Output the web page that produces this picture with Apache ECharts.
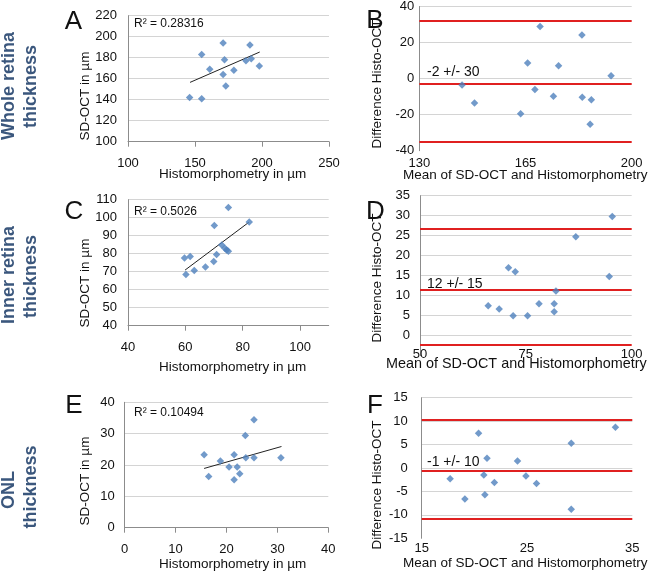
<!DOCTYPE html>
<html><head><meta charset="utf-8">
<script src="https://cdn.jsdelivr.net/npm/echarts@6/dist/echarts.min.js"></script>
<style>html,body{margin:0;padding:0;background:#fff}#c{width:649px;height:571px}</style>
</head><body><div id="c"></div>
<script>
// ---- Data ----
const scatterA = [[146,142],[155,141],[155,183],[161,169],[171,194],[172,178],[171,164],[173,153],[179,168],[188,177],[191,192],[192,179],[198,172]];
const trendA = [[146.3,156.5],[198.3,185.4]];
const baB = [[144.1,-3.5],[148.2,-13.6],[163.4,-19.5],[165.7,8.7],[168.1,-6],[169.8,28.9],[174.2,-9.8],[175.9,7.1],[183.6,24.2],[183.7,-10.4],[186.7,-11.8],[186.3,-25.3],[193.2,1.6]];
const limitsB = [32,-3.1,-34.9];

const scatterC = [[59.7,77.6],[60.2,68.5],[61.7,78.5],[63.1,70.6],[67,72.6],[69.9,75.6],[70.1,95.6],[70.9,79.6],[72.7,84.8],[73.8,83],[74.4,82.1],[75,81.3],[75,105.6],[82.3,97.6]];
const trendC = [[59.9,70.9],[82.1,97.4]];
const baD = [[66.1,7.5],[68.7,6.7],[70.9,17],[72,5],[72.5,16],[75.4,5],[78.1,8],[81.7,8],[81.7,6],[82.1,11.2],[86.8,24.75],[94.7,14.8],[95.4,29.8]];
const limitsD = [26.7,11.5,-2.3];

const scatterE = [[15.6,23.3],[18.8,21.3],[16.5,16.3],[20.5,19.4],[21.5,23.3],[22.1,19.4],[21.5,15.3],[22.6,17.2],[23.7,29.4],[23.8,22.3],[25.4,34.4],[25.4,22.3],[30.7,22.3]];
const trendE = [[15.6,18.9],[30.8,25.9]];
const baF = [[17.7,-2.3],[19.1,-6.6],[20.4,7.4],[20.9,-1.5],[21,-5.7],[21.2,2.1],[21.9,-3.1],[24.1,1.5],[24.9,-1.7],[25.9,-3.3],[29.2,5.3],[29.2,-8.8],[33.4,8.7]];
const limitsF = [10.2,-0.57,-10.8];

const ticksBx = [130,165,200];
const ticksCx = [40,60,80,100];
const ticksDx = [50,75,100];
const ticksFx = [15,25,35];

const r2Texts = ['R\u00b2 = 0.28316','R\u00b2 = 0.5026','R\u00b2 = 0.10494'];
const baTexts = ['-2 +/- 30','12 +/- 15','-1 +/- 10'];
const panelLetters = ['A','B','C','D','E','F'];
const rowLabels = [['Whole retina','thickness'],['Inner retina','thickness'],['ONL','thickness']];

// ---- Style ----
const FONT = 'Liberation Sans, Arial, sans-serif';
const GRID = '#d4d4d4', AXIS = '#8c8c8c', BLUE = '#4f81bd', RED = '#e02020', ROWC = '#3b577d';

const grids = [
  {left:128, top:15.7, width:201, height:126},
  {left:419.3, top:4, width:212.4, height:146.7},
  {left:128, top:199.7, width:200.7, height:126},
  {left:420, top:195.7, width:211.7, height:160},
  {left:124.7, top:402.3, width:203.6, height:125.4},
  {left:421.7, top:397.7, width:210.6, height:140.6}
];

function xAx(i, min, max, interval, opts){
  const o = opts || {};
  const ax = {gridIndex:i, type:'value', min, max, interval,
    axisLine:{show:!!o.line, onZero:false, lineStyle:{color:AXIS}},
    axisTick:{show:!!o.line, length:5, lineStyle:{color:AXIS}},
    splitLine:{show:false},
    axisLabel:{fontFamily:FONT, fontSize:13, color:'#111', margin:o.margin, showMaxLabel:true}};
  if (o.custom){ ax.axisLabel.customValues = o.custom; ax.axisTick.customValues = o.custom; }
  return ax;
}
function yAx(i, min, max, interval, opts){
  const o = opts || {};
  return {gridIndex:i, type:'value', min, max, interval,
    axisLine:{show:true, lineStyle:{color:AXIS}},
    axisTick:{show:false},
    splitLine:{show:true, showMinLine:false, lineStyle:{color:GRID, width:1}},
    axisLabel:{fontFamily:FONT, fontSize:13, color:'#111', margin:o.margin, showMinLabel:o.showMin!==false}};
}

const xAxes = [
  xAx(0,100,250,50,{line:true, margin:15}),
  xAx(1,130,200,35,{custom:ticksBx, margin:6}),
  xAx(2,40,110,20,{line:true, custom:ticksCx, margin:15}),
  xAx(3,50,100,25,{custom:ticksDx, margin:-8}),
  xAx(4,0,40,10,{line:true, margin:15}),
  xAx(5,15,35,10,{custom:ticksFx, margin:4})
];
const yAxes = [
  yAx(0,100,220,20,{margin:11}),
  yAx(1,-40,40,20,{margin:5}),
  yAx(2,40,110,10,{margin:11}),
  yAx(3,-5,35,5,{margin:10, showMin:false}),
  yAx(4,0,40,10,{margin:10}),
  yAx(5,-15,15,5,{margin:14})
];

const series = [];
function scatter(i, data){
  series.push({type:'scatter', xAxisIndex:i, yAxisIndex:i, data, symbol:'diamond', symbolSize:7.5,
    itemStyle:{color:BLUE}, z:5});
}
function trend(i, data){
  series.push({type:'line', xAxisIndex:i, yAxisIndex:i, data, symbol:'none',
    lineStyle:{color:'#222', width:1}, z:4});
}
function limits(i, vals){
  series.push({type:'line', xAxisIndex:i, yAxisIndex:i, data:[], 
    markLine:{silent:true, symbol:['none','none'], label:{show:false},
      lineStyle:{color:RED, width:2, type:'solid'},
      data: vals.map(v=>({yAxis:v}))}, z:3});
}
scatter(0,scatterA); trend(0,trendA);
scatter(1,baB); limits(1,limitsB);
scatter(2,scatterC); trend(2,trendC);
scatter(3,baD); limits(3,limitsD);
scatter(4,scatterE); trend(4,trendE);
scatter(5,baF); limits(5,limitsF);

function txt(text, x, y, size, opt){
  const o = opt || {};
  return {type:'text', x, y, rotation:o.rot||0, z:10,
    style:{text, fontFamily:FONT, fontSize:size, fontWeight:o.bold?'bold':'normal',
      fill:o.color||'#111', textAlign:o.align||'center', align:o.align||'center',
      textVerticalAlign:'middle', verticalAlign:'middle'}};
}
const R = Math.PI/2;
const graphics = [
  // row labels
  txt(rowLabels[0][0], 9, 86, 18, {rot:R, bold:true, color:ROWC}),
  txt(rowLabels[0][1], 31, 86.5, 18, {rot:R, bold:true, color:ROWC}),
  txt(rowLabels[1][0], 9, 275, 18, {rot:R, bold:true, color:ROWC}),
  txt(rowLabels[1][1], 31, 276.5, 18, {rot:R, bold:true, color:ROWC}),
  txt(rowLabels[2][0], 9, 490, 18, {rot:R, bold:true, color:ROWC}),
  txt(rowLabels[2][1], 31, 487, 18, {rot:R, bold:true, color:ROWC}),
  // panel letters
  txt(panelLetters[0], 73.5, 22, 26),
  txt(panelLetters[1], 375, 20.5, 26),
  txt(panelLetters[2], 74, 212, 26),
  txt(panelLetters[3], 375.5, 212, 26),
  txt(panelLetters[4], 74, 406, 26),
  txt(panelLetters[5], 375, 405.5, 26),
  // y axis titles
  txt('SD-OCT in \u00b5m', 85, 96, 13.5, {rot:R}),
  txt('SD-OCT in \u00b5m', 85, 283, 13.5, {rot:R}),
  txt('SD-OCT in \u00b5m', 85, 481, 13.5, {rot:R}),
  txt('Difference Histo-OCT', 377.5, 84, 13.5, {rot:R}),
  txt('Difference Histo-OCT', 377.5, 278, 13.5, {rot:R}),
  txt('Difference Histo-OCT', 377.5, 485, 13.5, {rot:R}),
  // x axis titles
  txt('Histomorphometry in \u00b5m', 232.7, 174, 13.5),
  txt('Histomorphometry in \u00b5m', 232.7, 367.7, 13.5),
  txt('Histomorphometry in \u00b5m', 232.7, 564, 13.5),
  txt('Mean of SD-OCT and Histomorphometry', 403, 175, 13.5, {align:'left'}),
  txt('Mean of SD-OCT and Histomorphometry', 386, 364, 14.4, {align:'left'}),
  txt('Mean of SD-OCT and Histomorphometry', 403, 563, 13.5, {align:'left'}),
  // R2
  txt(r2Texts[0], 134, 24, 12, {align:'left'}),
  txt(r2Texts[1], 134, 211.7, 12, {align:'left'}),
  txt(r2Texts[2], 134, 412.3, 12, {align:'left'}),
  // BA texts
  txt(baTexts[0], 427, 71.7, 14, {align:'left'}),
  txt(baTexts[1], 427, 284, 14, {align:'left'}),
  txt(baTexts[2], 427, 462, 14, {align:'left'})
];

const chart = echarts.init(document.getElementById('c'), null, {renderer:'canvas'});
chart.setOption({
  animation:false,
  backgroundColor:'#fff',
  grid: grids,
  xAxis: xAxes,
  yAxis: yAxes,
  series,
  graphic: graphics
});
</script></body></html>
